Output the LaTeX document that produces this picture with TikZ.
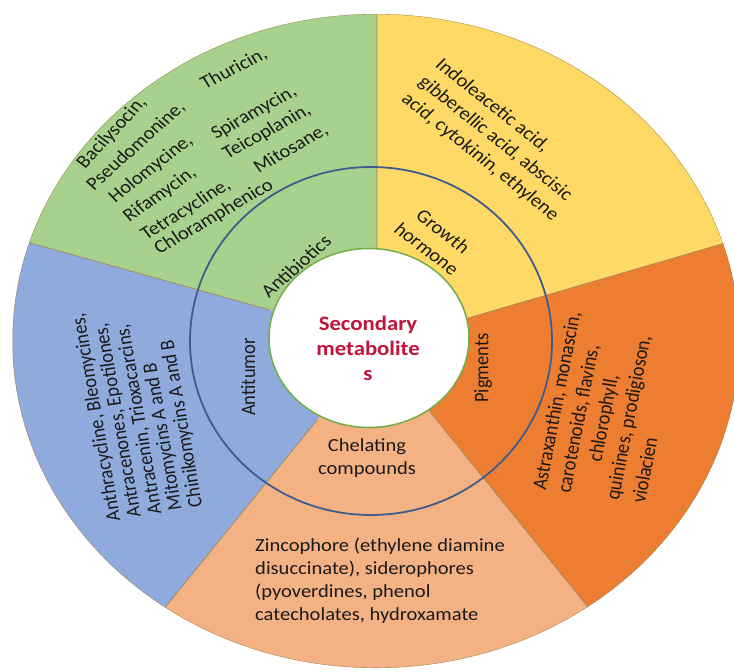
\documentclass[tikz,border=0pt]{standalone}
\usepackage{fontspec}
\setmainfont{Carlito}
\definecolor{wgreen}{HTML}{A9D18E}
\definecolor{wyellow}{HTML}{FFD966}
\definecolor{worange}{HTML}{ED7D31}
\definecolor{wpeach}{HTML}{F4B183}
\definecolor{wblue}{HTML}{8FAADC}
\definecolor{ringblue}{HTML}{3E5C8C}
\definecolor{hubgreen}{HTML}{70AD47}
\definecolor{hubred}{HTML}{C0143C}
\definecolor{seamc}{HTML}{A08A5A}
\definecolor{ink}{HTML}{1A1A1A}
\begin{document}
\begin{tikzpicture}[x=0.9009pt,y=-1pt,xscale=1.11,
  every node/.style={transform shape,inner sep=0pt,font=\fontsize{18.5}{23}\selectfont},
  seam/.style={draw=seamc,line width=0.7pt},
  lbl/.style={text=ink,align=center},
  word/.style={text=ink},
  upcol/.style={text=ink,anchor=west,rotate=99},
  pigcol/.style={text=ink,anchor=west,rotate=80}]
\useasboundingbox (0,0) rectangle (734,671);
% hub centre and seam end points
\coordinate (C) at (370,340);
\coordinate (a1) at (377,250); \coordinate (b1) at (377,-30);
\coordinate (a2) at (270,310); \coordinate (b2) at (-30,226);
\coordinate (a3) at (317,420); \coordinate (b3) at (90,700);
\coordinate (a4) at (430,412); \coordinate (b4) at (663,700);
\coordinate (a5) at (468,318); \coordinate (b5) at (780,227);
\begin{scope}
  \clip (0,0) rectangle (734,671);
  \clip (376,341) ellipse [x radius=363.5, y radius=327];
  \fill[wgreen]  (C) -- (a1) -- (b1) -- (-30,-30) -- (b2) -- (a2) -- cycle;
  \fill[wyellow] (C) -- (a1) -- (b1) -- (780,-30) -- (b5) -- (a5) -- cycle;
  \fill[worange] (C) -- (a5) -- (b5) -- (780,700) -- (b4) -- (a4) -- cycle;
  \fill[wpeach]  (C) -- (a4) -- (b4) -- (b3) -- (a3) -- cycle;
  \fill[wblue]   (C) -- (a3) -- (b3) -- (-30,700) -- (b2) -- (a2) -- cycle;
  \draw[seam] (a1) -- (b1) (a2) -- (b2) (a3) -- (b3) (a4) -- (b4) (a5) -- (b5);
  \draw[seam] (376,341) ellipse [x radius=363.5, y radius=327];
\end{scope}
% inner ring and hub
\draw[ringblue,line width=1.8pt] (371,341) ellipse [x radius=181, y radius=174];
\draw[hubgreen,fill=white,line width=1.5pt] (369,338) ellipse [x radius=100, y radius=89.5];
\node[text=hubred,align=center,font=\fontsize{20.5}{25}\selectfont\bfseries] (hub) at (368,348) {Secondary\\metabolite\\s};
% ring labels
\node[lbl,rotate=44] (antibio) at (296,266) {Antibiotics};
\node[lbl,rotate=-40] (growth) at (435,240) {Growth\\hormone};
\node[lbl,rotate=90] (pigm) at (483,368) {Pigments};
\node[lbl] (chel) at (367,458) {Chelating\\compounds};
\node[lbl,rotate=90] (antit) at (248,377) {Antitumor};
% antibiotics: the words flatten out towards the lower right
\node[word,rotate=50]   (ab1)  at (112,133) {Bacilysocin,};
\node[word,rotate=45]   (ab2)  at (136,146) {Pseudomonine,};
\node[word,rotate=40.8] (ab3)  at (151,169) {Holomycine,};
\node[word,rotate=37.9] (ab4)  at (160,195) {Rifamycin,};
\node[word,rotate=34.7] (ab5)  at (186,210) {Tetracycline,};
\node[word,rotate=32.6] (ab6)  at (214,217) {Chloramphenico};
\node[word,rotate=29.5] (ab7)  at (234,69)  {Thuricin,};
\node[word,rotate=31.6] (ab8)  at (254,113) {Spiramycin,};
\node[word,rotate=31.6] (ab9)  at (267,132) {Teicoplanin,};
\node[word,rotate=32.7] (ab10) at (291,149) {Mitosane,};
% growth hormones
\node[lbl,align=left,rotate=-41.4] (growthT) at (497,140) {Indoleacetic acid,\\gibberellic acid, abscisic\\acid, cytokinin, ethylene};
% pigments
\node[pigcol] (pg1) at (540,490) {Astraxanthin, monascin,};
\node[pigcol] (pg2) at (564.5,493) {carotenoids, flavins,};
\node[pigcol] (pg3) at (596,462) {chlorophyll,};
\node[pigcol] (pg4) at (613.5,500) {quinines, prodigioson,};
\node[pigcol] (pg5) at (638,503) {violacien};
% chelating compounds
\node[lbl,align=left,anchor=north west] (chelT) at (255,538) {Zincophore (ethylene diamine\\disuccinate), siderophores\\(pyoverdines, phenol\\catecholates, hydroxamate};
% antitumor
\node[upcol] (at1) at (115,521) {Anthracycline, Bleomycines,};
\node[upcol] (at2) at (135.5,517.5) {Antracenones, Epotilones,};
\node[upcol] (at3) at (156,514) {Antracenin, Trioxacarcins,};
\node[upcol] (at4) at (176.5,510.5) {Mitomycins A and B};
\node[upcol] (at5) at (197,507) {Chinikomycins A and B};
\end{tikzpicture}
\end{document}
